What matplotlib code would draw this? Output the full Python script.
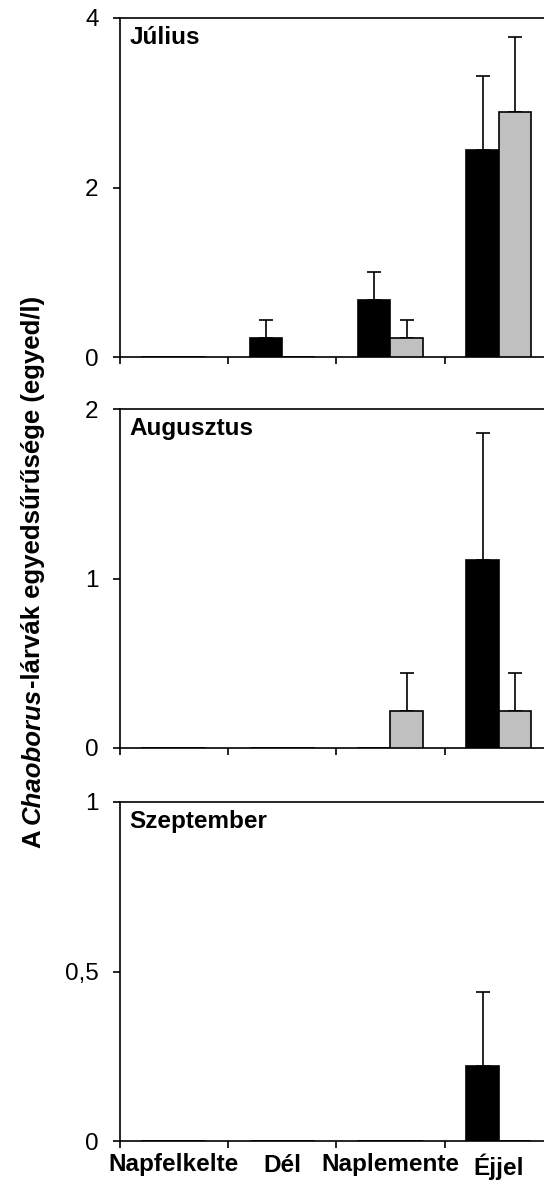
import matplotlib
matplotlib.use("Agg")
import matplotlib.pyplot as plt
from matplotlib.font_manager import FontProperties
import numpy as np

plt.rcParams['font.family'] = ['Liberation Sans', 'DejaVu Sans']

categories = ['Napfelkelte', 'Dél', 'Naplemente', 'Éjjel']
months = ['Július', 'Augusztus', 'Szeptember']

jul_dark = [0, 0.22, 0.67, 2.44]
jul_dark_err = [0, 0.22, 0.33, 0.87]
jul_light = [0, 0, 0.22, 2.89]
jul_light_err = [0, 0, 0.22, 0.89]

aug_dark = [0, 0, 0, 1.11]
aug_dark_err = [0, 0, 0, 0.75]
aug_light = [0, 0, 0.22, 0.22]
aug_light_err = [0, 0, 0.22, 0.22]

sep_dark = [0, 0, 0, 0.22]
sep_dark_err = [0, 0, 0, 0.22]
sep_light = [0, 0, 0, 0]
sep_light_err = [0, 0, 0, 0]

y_max = [4, 2, 1]
y_ticks = [[0, 2, 4], [0, 1, 2], [0, 0.5, 1]]
y_ticklabels = [['0', '2', '4'], ['0', '1', '2'], ['0', '0,5', '1']]

# y-axis title pieces: (text, font style)
ylabel_parts = [('A', 'normal'), ('Chaoborus', 'italic'), ('-lárvák egyedsűrűsége (egyed/l)', 'normal')]

panels = [
    (jul_dark, jul_dark_err, jul_light, jul_light_err),
    (aug_dark, aug_dark_err, aug_light, aug_light_err),
    (sep_dark, sep_dark_err, sep_light, sep_light_err),
]

W, H = 544, 1182
fig = plt.figure(figsize=(W / 100, H / 100), dpi=100)

left_px, right_px = 119.5, 553.0
panel_px = [(18, 357), (409, 748), (802, 1141)]

FS = 17.5
lw = 1.2
bar_w = 0.3
x = np.arange(len(categories))

for i, ((dark, dark_err, light, light_err), (top, bottom)) in enumerate(zip(panels, panel_px)):
    ax = fig.add_axes([left_px / W, 1 - bottom / H, (right_px - left_px) / W, (bottom - top) / H])
    ax.set_xlim(-0.5, len(categories) - 0.5)
    ax.set_ylim(0, y_max[i])

    ax.bar(x - bar_w / 2, dark, bar_w, color='black', edgecolor='black', linewidth=lw, zorder=3)
    ax.bar(x + bar_w / 2, light, bar_w, color='#c0c0c0', edgecolor='black', linewidth=lw, zorder=3)

    for xs, vals, errs in ((x - bar_w / 2, dark, dark_err), (x + bar_w / 2, light, light_err)):
        vals = np.asarray(vals, float)
        errs = np.asarray(errs, float)
        m = errs > 0
        if m.any():
            ax.errorbar(xs[m], vals[m], yerr=[np.zeros(m.sum()), errs[m]], fmt='none',
                        ecolor='black', elinewidth=lw, capsize=5, capthick=lw, zorder=2)

    for s in ('top', 'left', 'bottom', 'right'):
        ax.spines[s].set_linewidth(lw)
        ax.spines[s].set_color('black')

    ax.set_yticks(y_ticks[i])
    ax.set_yticklabels(y_ticklabels[i], fontsize=FS)
    ax.tick_params(axis='y', direction='out', length=5, width=lw, pad=10)

    ax.set_xticks(np.arange(-0.5, len(categories) - 0.5 + 1e-9, 1.0))
    ax.set_xticklabels([])
    ax.tick_params(axis='x', which='major', direction='out', length=5, width=lw)
    ax.set_xticks(x, minor=True)
    if i == len(panels) - 1:
        ax.set_xticklabels(categories, minor=True, fontsize=FS, fontweight='bold')
    ax.tick_params(axis='x', which='minor', length=0, pad=9)

    ax.text(10 / (right_px - left_px), 1 - 8 / (bottom - top), months[i], transform=ax.transAxes,
            ha='left', va='top', fontsize=FS, fontweight='bold')

# Rotated y-axis title assembled from pieces so that only the genus name is italic
YFS = 18.5
renderer = fig.canvas.get_renderer()


def piece_len(s, style):
    fp = FontProperties(family='Liberation Sans', weight='bold', style=style, size=YFS)
    w, _, _ = renderer.get_text_width_height_descent(s, fp, ismath=False)
    return w


space = piece_len('A A', 'normal') - 2 * piece_len('A', 'normal')
lengths = [piece_len(s, st) for s, st in ylabel_parts]
total = sum(lengths) + space
baseline_x = 40.0
y_pos = 572 + total / 2  # pixel from top where the title starts
for k, ((s, st), L) in enumerate(zip(ylabel_parts, lengths)):
    fig.text(baseline_x / W, 1 - y_pos / H, s, rotation=90, rotation_mode='anchor',
             ha='left', va='baseline', fontsize=YFS, fontweight='bold', fontstyle=st,
             family='Liberation Sans')
    y_pos -= L + (space if k == 0 else 0)

fig.savefig('out.png', dpi=100)
